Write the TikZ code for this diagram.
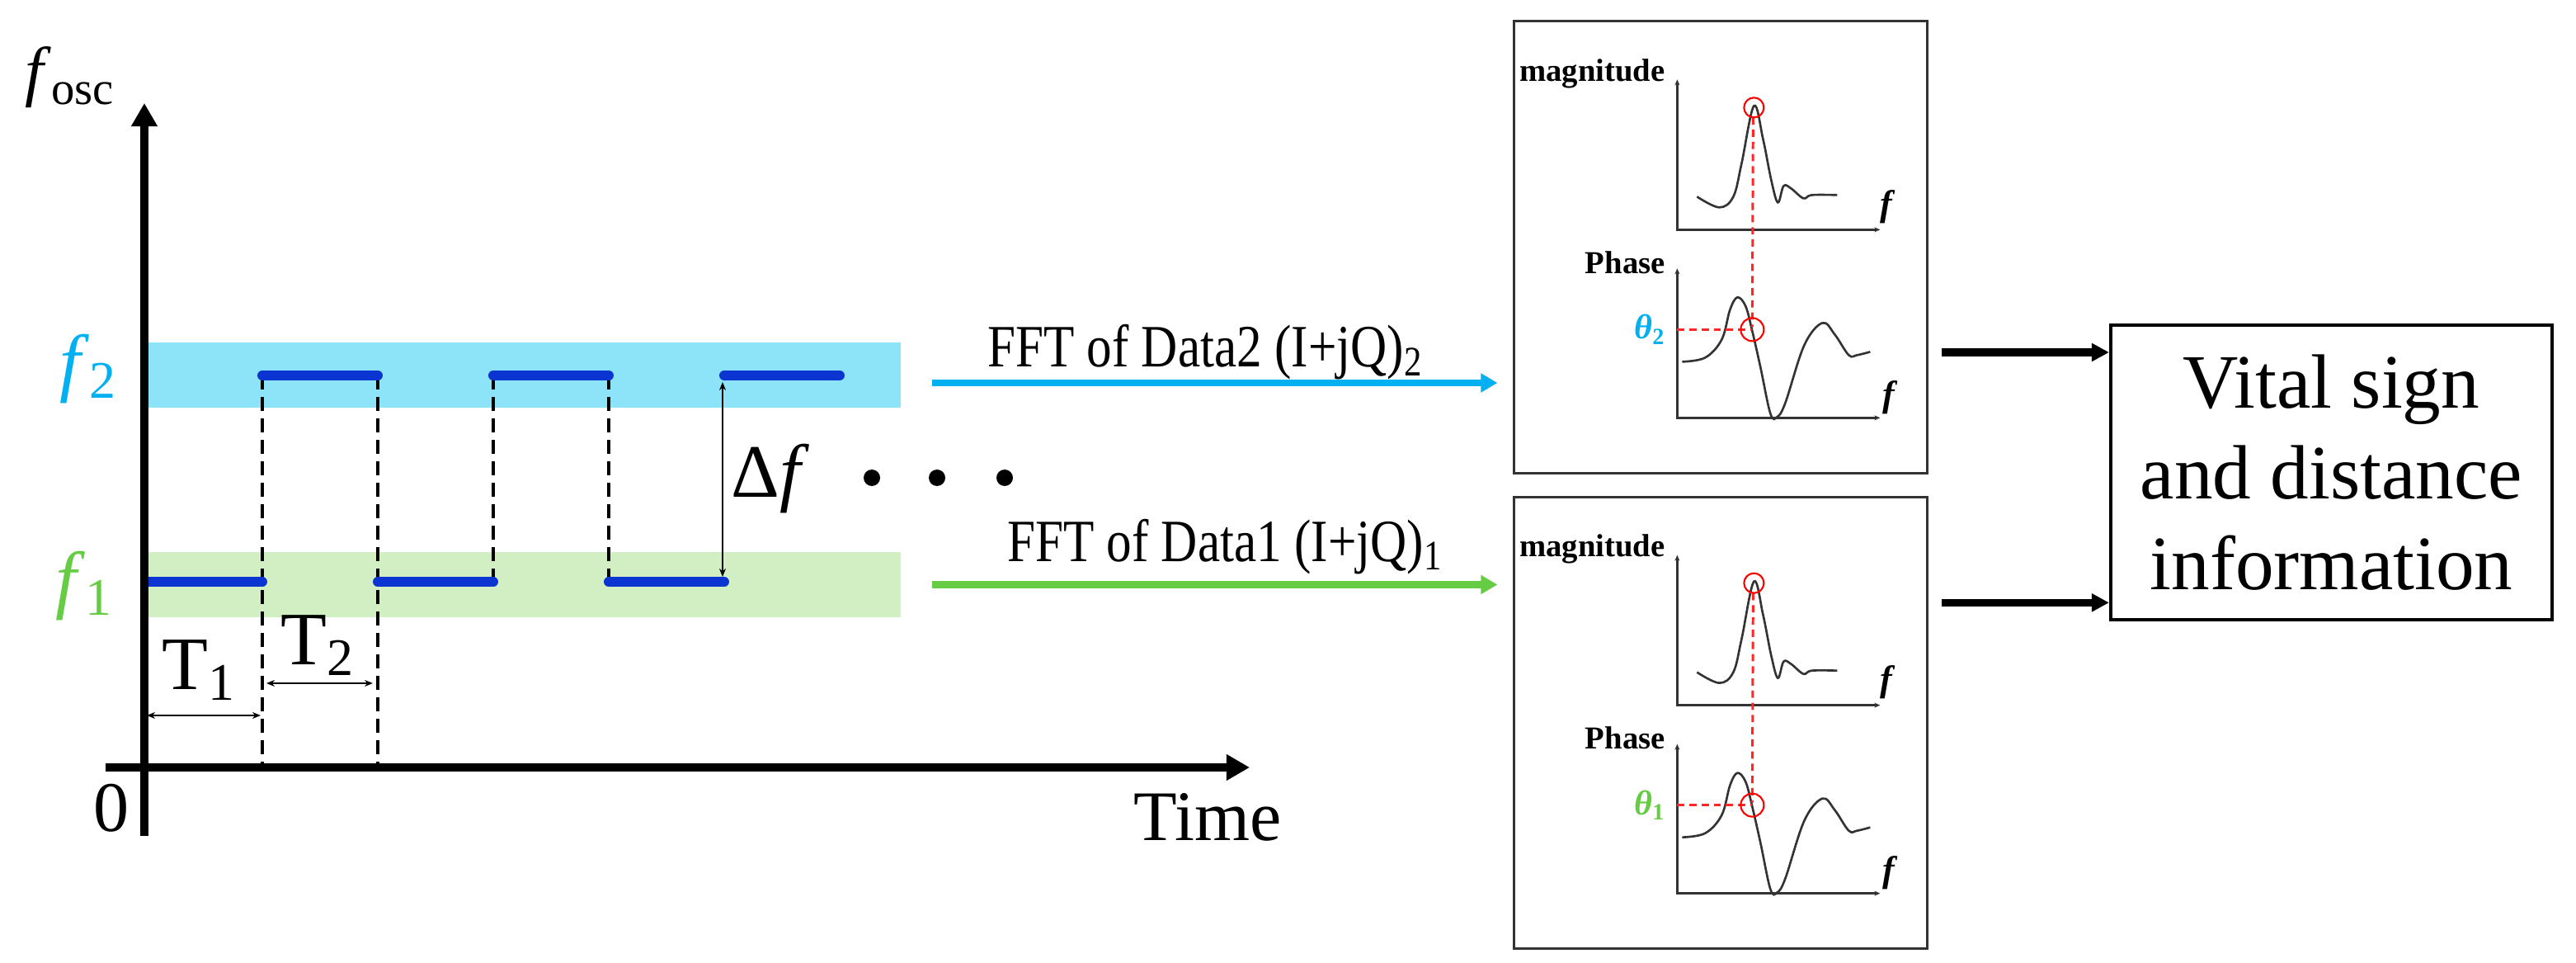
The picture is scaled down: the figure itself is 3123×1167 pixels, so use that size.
\documentclass[tikz,border=0pt]{standalone}
\usepackage{fontspec}
\setmainfont{Liberation Serif}
\usetikzlibrary{arrows.meta,calc,positioning}
\definecolor{sig2}{HTML}{00B0F0}
\definecolor{sig1}{HTML}{66CC44}
\definecolor{band2}{HTML}{8DE3F8}
\definecolor{band1}{HTML}{D2EFC3}
\definecolor{wave}{HTML}{0A35D0}
\definecolor{ink}{HTML}{333333}
\tikzset{
	ax/.style={line width=2.8pt, -{Triangle[length=0.28cm,width=0.3cm]}},
	band/.style={minimum width=9.16cm, minimum height=0.79cm, anchor=west, inner sep=0pt},
	lvl/.style={wave, line width=3.4pt, line cap=round},
	jump/.style={line width=1.1pt, dash pattern=on 4.8pt off 2.6pt},
	dimarr/.style={line width=0.6pt, {Stealth[length=0.1cm,width=0.08cm]}-{Stealth[length=0.1cm,width=0.08cm]}},
	fft/.style={line width=2.3pt, -{Triangle[length=0.2cm,width=0.22cm]}, shorten >=0.19cm},
	fftlab/.style={font=\fontsize{20.7}{24}\selectfont, anchor=base, inner sep=0pt},
	lbl/.style={font=\fontsize{26}{30}\selectfont, inner sep=0pt},
	panel/.style={draw=ink, line width=0.85pt, minimum width=5cm, minimum height=5.47cm, inner sep=0pt},
	outarr/.style={line width=2.6pt, -{Triangle[length=0.21cm,width=0.21cm]}},
	pax/.style={ink, line width=0.7pt, {Stealth[length=0.07cm,width=0.06cm]}-{Stealth[length=0.07cm,width=0.06cm]}},
	plab/.style={font=\fontsize{11}{13}\selectfont\bfseries, inner sep=0pt, anchor=base east},
	curve/.style={ink, line width=0.75pt},
	hit/.style={red, line width=0.6pt},
	hitline/.style={red!85, line width=0.85pt, dash pattern=on 2.5pt off 1.7pt},
	spectrum/.pic={
		\draw[pax] (199,72) -- (199,254) -- (445,254);
		\draw[pax] (199,301) -- (199,482) -- (445,482);
		\node[plab] (-mag) at (185,74) {magnitude};
		\node[plab] (-ph) at (185,307) {Phase};
		\node[font=\fontsize{12.5}{14}\selectfont, inner sep=0pt] (-fm) at (454,226) {\textbf{\textit{f}}};
		\node[font=\fontsize{12.5}{14}\selectfont, inner sep=0pt] (-fp) at (457,457) {\textbf{\textit{f}}};
		\draw[curve] plot[smooth, tension=0.6] coordinates {(223,214) (250,227) (267,214) (277,174)
			(292,104) (303,144) (313,194) (321,221) (328,201) (337,204) (352,216) (362,212) (393,212)};
		\draw[curve] plot[smooth, tension=0.6] coordinates {(205,414) (233,409) (253,387) (263,351)
			(272,336) (282,347) (290,377) (300,421) (312,477) (320,481) (330,464) (353,394) (375,367)
			(390,381) (407,406) (417,406) (433,402)};
		\draw[hitline] (291,118) -- (290,372);
		\draw[hitline] (199,375) -- (290,375);
		\draw[hit] (292,106) circle[radius=12];
		\draw[hit] (290,375) circle[radius=14];
		\node[font=\fontsize{12}{14}\selectfont\bfseries, text=sig#1, inner sep=0pt] (-th) at (166,375)
			{\textit{θ}\textsubscript{#1}};
	}
}

\begin{document}
\begin{tikzpicture}[x=0.01cm, y=-0.01cm]
	\useasboundingbox (0,0) rectangle (3123,1167);
	% hopping between the two frequencies
	\node[band, fill=band2] (band2) at (175,454.5) {};
	\node[band, fill=band1] (band1) at (175,708.5) {};
	\foreach \x in {318,458} \draw[jump] (\x,455) -- (\x,930);
	\foreach \x in {598,738} \draw[jump] (\x,455) -- (\x,705);
	\foreach \k in {0,1,2} {
		\draw[lvl] ({178+280*\k},705) -- ({318+280*\k},705);
		\draw[lvl] ({318+280*\k},455) -- ({458+280*\k},455);
	}
	\draw[ax] (175,1013) -- (175,125);
	\draw[ax] (128,930) -- (1515,930);
	\draw[dimarr] (876,463) -- (876,699);
	\draw[dimarr] (178,867) -- (316,867);
	\draw[dimarr] (323,828) -- (452,828);
	\foreach \x in {1057,1136,1218} \fill (\x,579) circle[radius=10];
	\node[lbl, font=\fontsize{23}{27}\selectfont] (fosc) at (85,94) {\textit{f}\textsubscript{osc}};
	\node[lbl, text=sig2] (f2) at (107,447) {\textit{f}\textsubscript{2}};
	\node[lbl, text=sig1] (f1) at (102,710) {\textit{f}\textsubscript{1}};
	\node[lbl] (df) at (934,580) {Δ\textit{f}};
	\node[lbl] (T1) at (241,812) {T\textsubscript{1}};
	\node[lbl] (T2) at (385,782) {T\textsubscript{2}};
	\node[lbl, font=\fontsize{24.5}{28}\selectfont] (zero) at (135,979) {0};
	\node[lbl, font=\fontsize{24.5}{28}\selectfont] (time) at (1464,990) {Time};
	% spectra
	\node[panel] (box2) at (2086,299.5) {};
	\node[panel, below=0.26cm of box2] (box1) {};
	\pic (s2) at (box2.north west) {spectrum=2};
	\pic (s1) at (box1.north west) {spectrum=1};
	\draw[fft, sig2] ($(band2.east)+(37,9.5)$) coordinate (s2in) -- (s2in -| box2.west);
	\draw[fft, sig1] ($(band1.east)+(37,0)$) coordinate (s1in) -- (s1in -| box1.west);
	\node[fftlab] (l2) at (1461,445) {\scalebox{0.84}[1]{FFT of Data2 (I+jQ)\textsubscript{2}}};
	\node[fftlab] (l1) at (1485,680) {\scalebox{0.84}[1]{FFT of Data1 (I+jQ)\textsubscript{1}}};
	\node[draw, line width=1.1pt, minimum width=5.35cm, minimum height=3.57cm, align=center,
		font=\fontsize{26.5}{31.3}\selectfont] (vital) at (2826.5,572.5) {Vital sign\\and distance\\information};
	\draw[outarr] ($(box2.east)+(16,127.5)$) coordinate (o2) -- (o2 -| vital.west);
	\draw[outarr] ($(box1.east)+(16,-145.5)$) coordinate (o1) -- (o1 -| vital.west);
\end{tikzpicture}
\end{document}
